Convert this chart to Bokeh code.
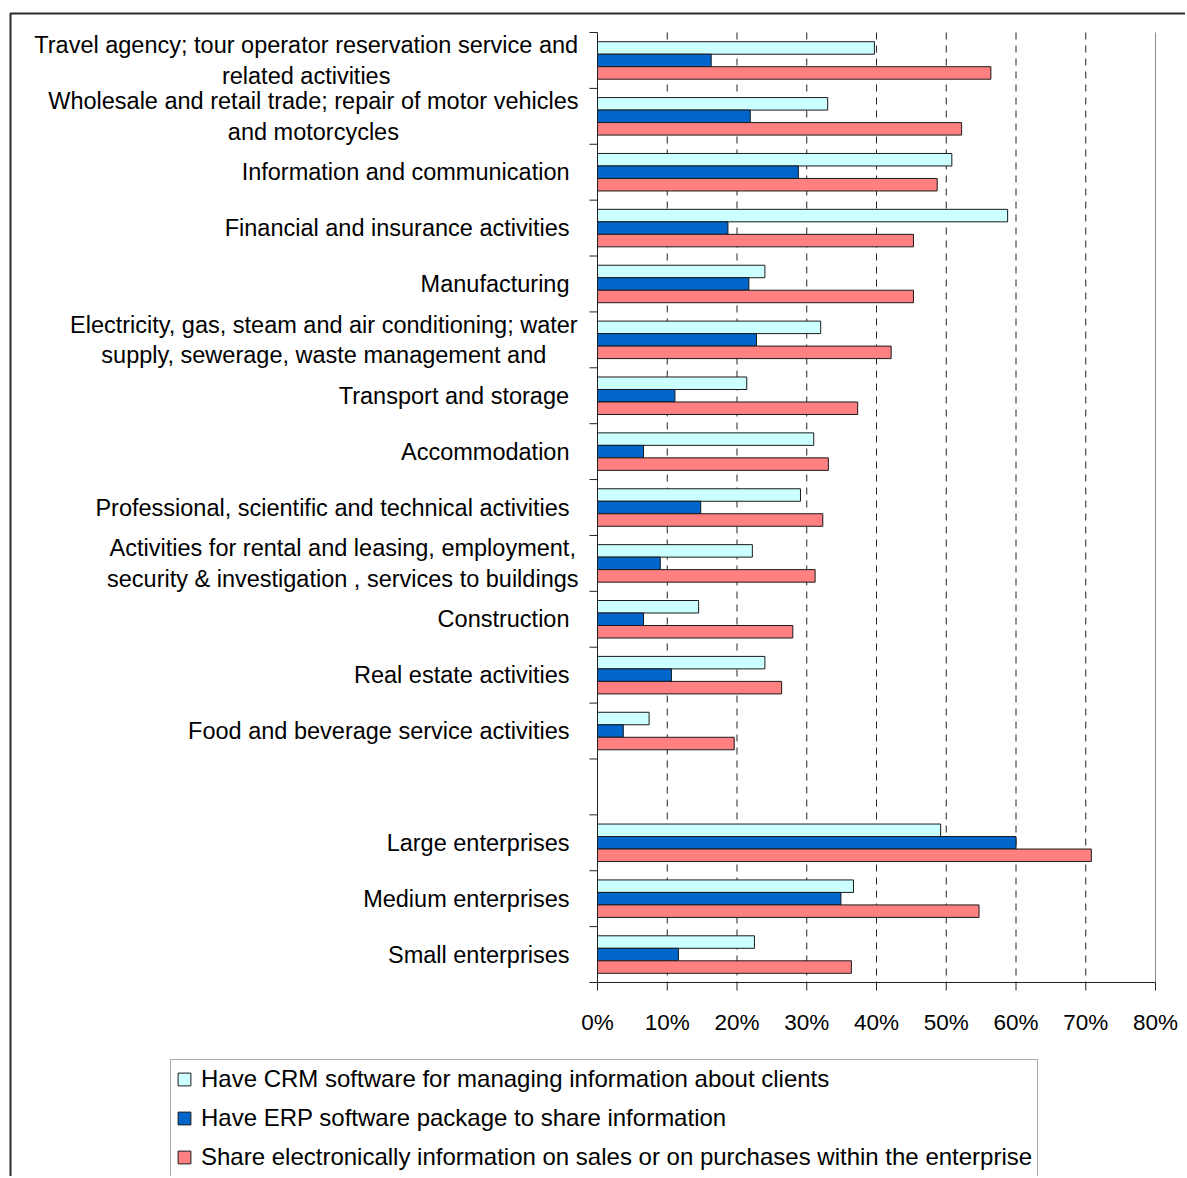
from bokeh.plotting import figure
from bokeh.models import (Range1d, Legend, LegendItem, BoxAnnotation, ColumnDataSource)
from bokeh.core.properties import value
from bokeh.embed import file_html
from bokeh.resources import INLINE

# ---------------- data ----------------
categories = [
    "Travel agency; tour operator reservation service and\nrelated activities",
    "Wholesale and retail trade; repair of motor vehicles\nand motorcycles",
    "Information and communication",
    "Financial and insurance activities",
    "Manufacturing",
    "Electricity, gas, steam and air conditioning; water\nsupply, sewerage, waste management and",
    "Transport and storage",
    "Accommodation",
    "Professional, scientific and technical activities",
    "Activities for rental and leasing, employment,\nsecurity & investigation , services to buildings",
    "Construction",
    "Real estate activities",
    "Food and beverage service activities",
    "",
    "Large enterprises",
    "Medium enterprises",
    "Small enterprises",
]
crm = [39.7, 33.0, 50.8, 58.8, 24.0, 32.0, 21.4, 31.0, 29.1, 22.2, 14.5, 24.0, 7.4,
       None, 49.2, 36.7, 22.5]
erp = [16.3, 21.9, 28.8, 18.7, 21.7, 22.8, 11.1, 6.6, 14.8, 9.0, 6.6, 10.6, 3.7,
       None, 60.0, 34.9, 11.6]
sales = [56.4, 52.2, 48.7, 45.3, 45.3, 42.1, 37.3, 33.1, 32.3, 31.2, 28.0, 26.4, 19.6,
         None, 70.8, 54.7, 36.4]
series_names = [
    "Have CRM software for managing information about clients",
    "Have ERP software package to share information",
    "Share electronically information on sales or on purchases within the enterprise",
]
x_ticks = [0, 10, 20, 30, 40, 50, 60, 70, 80]

# ---------------- style / layout ----------------
FONT = "Liberation Sans"
CAT_SIZE = 23.5
TICK_SIZE = 22.5
LEG_SIZE = 24
colors = ["#CCFFFF", "#0066CC", "#FF8080"]
W, H = 1185, 1176               # canvas
AX_X0, AX_Y0 = 597, 32          # pixel position of value 0 / first slot top
PLOT_W, PLOT_H = 558, 950       # plot-area size in px
n_slots = len(categories)
px_x = PLOT_W / (x_ticks[-1] - x_ticks[0])
px_y = PLOT_H / n_slots
x_start = x_ticks[0] - AX_X0 / px_x
y_top = -AX_Y0 / px_y
bar_h = 12.5 / px_y
offsets = [-bar_h, 0.0, bar_h]
TICK_LEN = 8

p = figure(width=W, height=H,
           x_range=Range1d(x_start, x_start + W / px_x),
           y_range=Range1d(y_top + H / px_y, y_top),
           x_axis_type=None, y_axis_type=None,
           output_backend="svg", toolbar_location=None,
           min_border=0)
p.outline_line_color = None
p.background_fill_color = "white"
p.border_fill_color = "white"
p.xgrid.visible = False
p.ygrid.visible = False

# vertical gridlines (dashed) and plot-area right edge
inner = x_ticks[1:-1]
p.segment(x0=inner, x1=inner, y0=[0] * len(inner), y1=[n_slots] * len(inner),
          line_color="#222222", line_width=1, line_dash="7 6")
p.segment(x0=[x_ticks[-1]], x1=[x_ticks[-1]], y0=[0], y1=[n_slots],
          line_color="#8c8c8c", line_width=1)

# bars
renderers = []
for vals, off, col in zip([crm, erp, sales], offsets, colors):
    ys, xs = [], []
    for i, v in enumerate(vals):
        if v is not None:
            ys.append(i + 0.5 + off)
            xs.append(v)
    src = ColumnDataSource(dict(y=ys, x=xs))
    r = p.hbar(y="y", right="x", left=0, height=bar_h, source=src,
               fill_color=col, line_color="#1a1a1a", line_width=1)
    renderers.append(r)

# category axis (vertical line at 0 with ticks at slot boundaries)
bounds = list(range(n_slots + 1))
p.segment(x0=[0], x1=[0], y0=[0], y1=[n_slots], line_color="#222222", line_width=1)
p.segment(x0=[-TICK_LEN / px_x] * len(bounds), x1=[0] * len(bounds),
          y0=bounds, y1=bounds, line_color="#222222", line_width=1)

# value axis
p.segment(x0=[x_ticks[0]], x1=[x_ticks[-1]], y0=[n_slots], y1=[n_slots],
          line_color="#222222", line_width=1)
p.segment(x0=x_ticks, x1=x_ticks, y0=[n_slots] * len(x_ticks),
          y1=[n_slots + TICK_LEN / px_y] * len(x_ticks),
          line_color="#222222", line_width=1)
p.text(x=x_ticks, y=[n_slots + 40 / px_y] * len(x_ticks),
       text=[f"{t}%" for t in x_ticks], text_align="center", text_baseline="middle",
       text_font=value(FONT), text_font_size=f"{TICK_SIZE}px", text_color="black")

# Arial / Liberation Sans advance widths (per 1000 em)
AW = dict(zip("abcdefghijklmnopqrstuvwxyz",
              [556, 556, 500, 556, 556, 278, 556, 556, 222, 222, 500, 222, 833,
               556, 556, 556, 556, 333, 500, 278, 556, 500, 722, 500, 500, 500]))
AW.update(zip("ABCDEFGHIJKLMNOPQRSTUVWXYZ",
              [667, 667, 722, 722, 667, 611, 778, 722, 278, 500, 667, 556, 833,
               722, 778, 667, 778, 722, 667, 611, 722, 667, 944, 667, 667, 611]))
AW.update({" ": 278, ",": 278, ";": 278, "&": 667, ".": 278})


def text_w(s):
    return sum(AW.get(c, 556) for c in s) * CAT_SIZE / 1000.0


LINE_PX = 30.5
lx, ly, lt = [], [], []
for i, cat in enumerate(categories):
    if not cat:
        continue
    lines = cat.split("\n")
    n = len(lines)
    gap = 19 if n > 1 else 28
    wmax = max(text_w(s) for s in lines)
    cx = -(gap + wmax / 2.0) / px_x
    for k, line in enumerate(lines):
        lx.append(cx)
        ly.append(i + 0.5 + (k - (n - 1) / 2.0) * LINE_PX / px_y)
        lt.append(line)
p.text(x=lx, y=ly, text=lt, text_align="center", text_baseline="middle",
       text_font=value(FONT), text_font_size=f"{CAT_SIZE}px", text_color="black")

# legend (inside the full-canvas frame; its bottom edge runs off the canvas)
legend = Legend(items=[LegendItem(label=nm, renderers=[r])
                       for nm, r in zip(series_names, renderers)],
                location=(170, -1), orientation="vertical",
                label_text_font=FONT, label_text_font_size=f"{LEG_SIZE}px",
                label_text_color="black",
                glyph_width=16, glyph_height=16, label_height=28, spacing=11,
                padding=5, margin=0, label_standoff=9,
                border_line_color="#555555", border_line_width=1,
                background_fill_color="white", background_fill_alpha=1.0)
p.add_layout(legend)

# outer chart border (only top/left visible)
p.add_layout(BoxAnnotation(left=10, right=5000, top=13, bottom=5000,
                           left_units="canvas", right_units="canvas",
                           top_units="canvas", bottom_units="canvas",
                           fill_alpha=0, line_color="#2a2a2a", line_alpha=1.0,
                           line_width=2, level="overlay"))

open("out.html", "w").write(file_html(p, INLINE))
